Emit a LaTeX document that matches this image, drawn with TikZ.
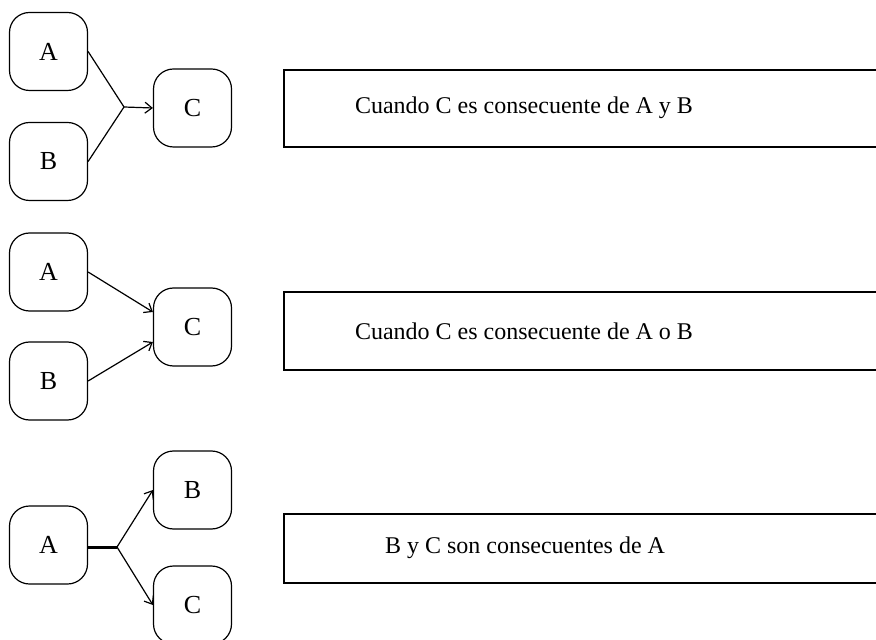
\documentclass[tikz,border=0pt]{standalone}
\usepackage{fontspec}
\setmainfont{Liberation Serif}
\usetikzlibrary{arrows.meta}
\begin{document}
\begin{tikzpicture}
[x=0.5pt,y=-0.5pt,
letter/.style={rectangle,rounded corners=10pt,draw,line width=0.6pt,minimum size=39pt,inner sep=0pt,font=\fontsize{13}{15}\selectfont},
caption/.style={font=\fontsize{12}{14}\selectfont},
link/.style={line width=0.6pt},
arrow/.style={line width=0.6pt,-{Straight Barb[length=3.5pt,width=5.5pt]}},
thick link/.style={line width=1.5pt},
frame/.style={line width=0.6pt}
]
\useasboundingbox (0,0) rectangle (876,640);
% first case
\node[letter] (a1) at (48.5,51.5) {A};
\node[letter] (b1) at (48.5,161.5) {B};
\node[letter] (c1) at (192.5,108) {C};
\coordinate (j1) at (124,107);
\draw[link] (a1.east) -- (j1);
\draw[link] (b1.east) -- (j1);
\draw[arrow] (j1) -- (c1.west);
\draw[frame] (880,70) -| (284,147) -- (880,147);
\node[caption] (t1) at (524,108) {Cuando C es consecuente de A y B};
% second case
\node[letter] (a2) at (48.5,272) {A};
\node[letter] (b2) at (48.5,381) {B};
\node[letter] (c2) at (192.5,327) {C};
\draw[arrow] (a2.east) -- ([yshift=7.5pt]c2.west);
\draw[arrow] (b2.east) -- ([yshift=-7.5pt]c2.west);
\draw[frame] (880,292) -| (284,370) -- (880,370);
\node[caption] (t2) at (524,331) {Cuando C es consecuente de A o B};
% third case
\node[letter] (a3) at (48.5,545) {A};
\node[letter] (b3) at (192.5,490) {B};
\node[letter] (c3) at (192.5,605) {C};
\coordinate (j3) at (117,547);
\draw[thick link] ([yshift=-1pt]a3.east) -- (j3);
\draw[arrow] (j3) -- (b3.west);
\draw[arrow] (j3) -- (c3.west);
\draw[frame] (880,514) -| (284,583) -- (880,583);
\node[caption] (t3) at (525,548) {B y C son consecuentes de A};
\end{tikzpicture}
\end{document}
